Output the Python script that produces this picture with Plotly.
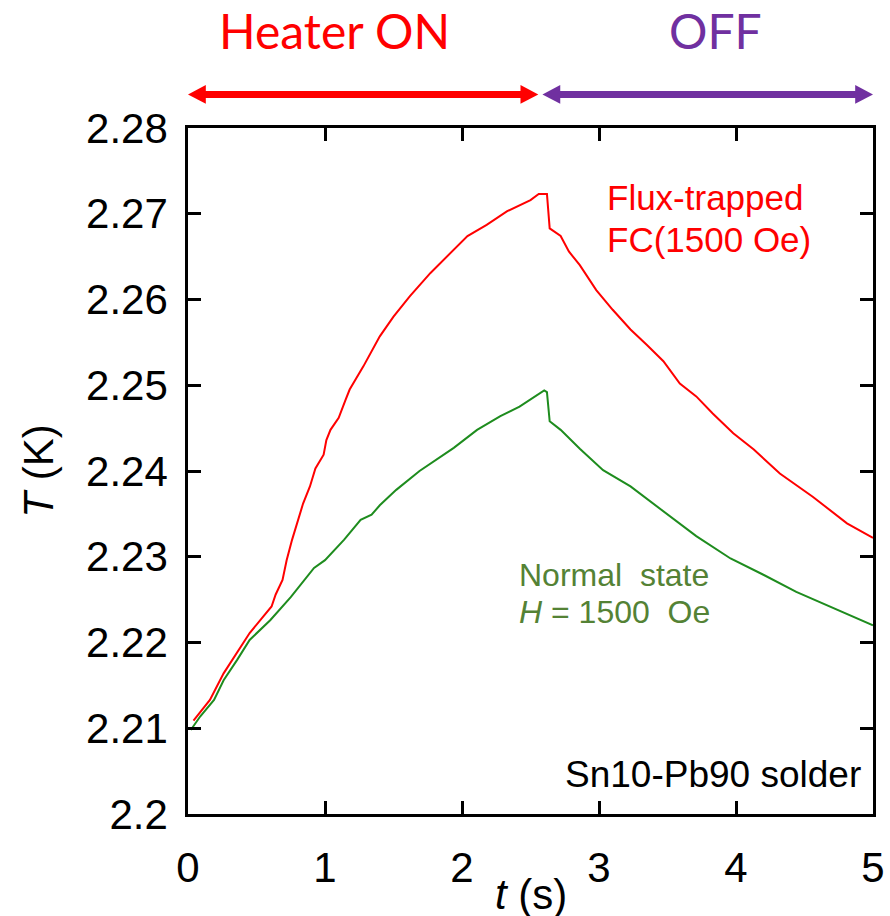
import plotly.graph_objects as go

# Temperature response of Sn10-Pb90 solder during heater pulse
t_fc = [0.04, 0.16, 0.26, 0.37, 0.45, 0.61, 0.64, 0.69, 0.72, 0.76, 0.78, 0.84, 0.89,
        0.93, 0.99, 1.01, 1.04, 1.10, 1.15, 1.18, 1.28, 1.40, 1.50, 1.62, 1.77, 1.89,
        2.04, 2.18, 2.33, 2.50, 2.56, 2.62, 2.64, 2.72, 2.78, 2.86, 2.98, 3.10, 3.23,
        3.35, 3.47, 3.59, 3.71, 3.83, 3.98, 4.13, 4.32, 4.56, 4.81, 5.00]
T_fc = [2.2109, 2.2133, 2.2164, 2.2191, 2.2211, 2.2242, 2.2256, 2.2273, 2.2296, 2.2320,
        2.2331, 2.2362, 2.2382, 2.2403, 2.2419, 2.2436, 2.2448, 2.2462, 2.2483, 2.2495,
        2.2522, 2.2557, 2.2580, 2.2604, 2.2631, 2.2650, 2.2674, 2.2687, 2.2703, 2.2716,
        2.2723, 2.2723, 2.2683, 2.2674, 2.2656, 2.2640, 2.2611, 2.2588, 2.2565, 2.2547,
        2.2528, 2.2502, 2.2487, 2.2467, 2.2444, 2.2425, 2.2397, 2.2370, 2.2339, 2.2322]

t_normal = [0.02, 0.09, 0.19, 0.26, 0.36, 0.45, 0.60, 0.75, 0.92, 1.00, 1.14, 1.26, 1.34,
            1.40, 1.52, 1.69, 1.94, 2.11, 2.28, 2.42, 2.60, 2.62, 2.64, 2.72, 2.86, 3.03,
            3.23, 3.47, 3.71, 3.96, 4.20, 4.44, 4.69, 5.00]
T_normal = [2.2098, 2.2114, 2.2133, 2.2156, 2.2180, 2.2203, 2.2226, 2.2253, 2.2287, 2.2296,
            2.2320, 2.2343, 2.2349, 2.2360, 2.2378, 2.2400, 2.2427, 2.2448, 2.2464, 2.2475,
            2.2494, 2.2492, 2.2458, 2.2448, 2.2426, 2.2401, 2.2382, 2.2353, 2.2324, 2.2298,
            2.2279, 2.2259, 2.2242, 2.2220]

y_tickvals = [2.2, 2.21, 2.22, 2.23, 2.24, 2.25, 2.26, 2.27, 2.28]
y_ticktext = ["2.2", "2.21", "2.22", "2.23", "2.24", "2.25", "2.26", "2.27", "2.28"]
x_tickvals = [0, 1, 2, 3, 4, 5]

# Heater phases: (label, start s, end s, label centre s, colour)
phases = [("Heater ON", 0.0, 2.557, 1.07, "#FF0000"),
          ("OFF", 2.587, 5.0, 3.85, "#7030A0")]

RED = "#FF0000"
GREEN_LINE = "#1E8C1E"
GREEN_TEXT = "#548235"
ARIAL = "Liberation Sans, Arial, sans-serif"
TICK_FONT = dict(family=ARIAL, size=42, color="black")

fig = go.Figure()
fig.add_trace(go.Scatter(x=t_fc, y=T_fc, mode="lines",
                         line=dict(color=RED, width=2), showlegend=False))
fig.add_trace(go.Scatter(x=t_normal, y=T_normal, mode="lines",
                         line=dict(color=GREEN_LINE, width=2), showlegend=False))

# Double-headed phase arrows above the plot
arrow_y = 1.049
head_len = 0.13      # seconds
head_half = 0.0138   # paper units
for label, t0, t1, tc, col in phases:
    fig.add_shape(type="line", xref="x", yref="paper",
                  x0=t0 + head_len * 0.9, x1=t1 - head_len * 0.9, y0=arrow_y, y1=arrow_y,
                  line=dict(color=col, width=7))
    fig.add_shape(type="path", xref="x", yref="paper",
                  path=f"M {t0} {arrow_y} L {t0 + head_len} {arrow_y + head_half} "
                       f"L {t0 + head_len} {arrow_y - head_half} Z",
                  fillcolor=col, line=dict(color=col, width=0))
    fig.add_shape(type="path", xref="x", yref="paper",
                  path=f"M {t1} {arrow_y} L {t1 - head_len} {arrow_y + head_half} "
                       f"L {t1 - head_len} {arrow_y - head_half} Z",
                  fillcolor=col, line=dict(color=col, width=0))
    fig.add_annotation(x=tc, xref="x", y=1.142, yref="paper",
                       yanchor="middle", xanchor="center",
                       text=label, showarrow=False,
                       font=dict(family="Lato, sans-serif", size=48, color=col))


def text_line(txt, x, y, size, color, xanchor="left"):
    fig.add_annotation(x=x, y=y, xref="paper", yref="paper",
                       xanchor=xanchor, yanchor="middle", showarrow=False,
                       text=txt, font=dict(family=ARIAL, size=size, color=color))


text_line("Flux-trapped", 0.609, 0.898, 35, RED)
text_line("FC(1500 Oe)", 0.609, 0.838, 35, RED)
text_line("Normal\u00a0\u00a0state", 0.481, 0.348, 32, GREEN_TEXT)
text_line("<i>H</i> = 1500\u00a0\u00a0Oe", 0.481, 0.294, 32, GREEN_TEXT)
text_line("Sn10-Pb90 solder", 0.985, 0.058, 37, "black", xanchor="right")

# x-axis title placed directly below the tick labels
text_line("<i>t</i> (s)", 0.5, -0.117, 42, "black", xanchor="center")

axis_common = dict(showline=True, linecolor="black", linewidth=2.5, mirror="ticks",
                   ticks="inside", ticklen=13, tickwidth=2.5, tickcolor="black",
                   showgrid=False, zeroline=False, tickfont=TICK_FONT, automargin=False)

fig.update_xaxes(range=[0, 5], tickvals=x_tickvals, ticklabeloverflow="allow",
                 ticklabelstandoff=15,
                 **axis_common)
fig.update_yaxes(range=[2.2, 2.28], tickvals=y_tickvals, ticktext=y_ticktext,
                 title=dict(text="<i>T</i> (K)", font=TICK_FONT, standoff=20),
                 ticklabelstandoff=9,
                 **axis_common)

fig.update_layout(width=890, height=916, paper_bgcolor="white", plot_bgcolor="white",
                  margin=dict(l=188, r=17, t=128, b=102),
                  font=dict(family=ARIAL))

fig.write_html("out.html")
